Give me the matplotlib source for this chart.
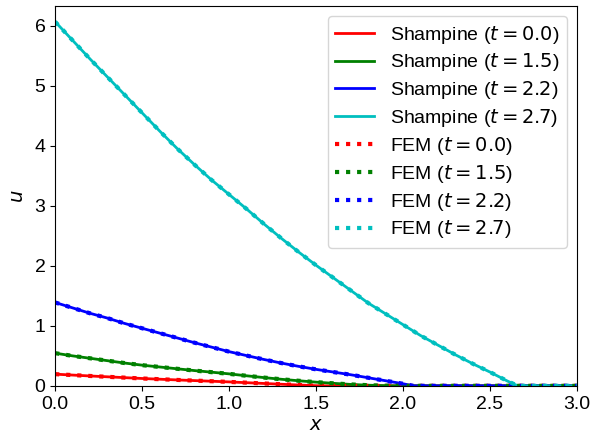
import matplotlib
matplotlib.use('Agg')
import matplotlib.pyplot as plt

plt.rcParams['font.family'] = ['Liberation Sans', 'DejaVu Sans']
plt.rcParams['font.size'] = 14

times = [0.0, 1.5, 2.2, 2.7]
colors = ['r', 'g', 'b', 'c']

x_red = [0.0, 0.1, 0.2, 0.3, 0.4, 0.5, 0.6, 0.7, 0.8, 0.9, 1.0, 1.1, 1.2, 1.3, 1.4, 1.5, 1.55, 3.0]
u_red = [0.195, 0.18, 0.165, 0.151, 0.137, 0.123, 0.111, 0.099, 0.088, 0.077, 0.066, 0.053, 0.04, 0.027, 0.014, 0.003, 0.0, 0.0]

x_green = [0.0, 0.1, 0.2, 0.3, 0.4, 0.5, 0.6, 0.7, 0.8, 0.9, 1.0, 1.1, 1.2, 1.3, 1.4, 1.5, 1.6, 1.7, 1.8, 1.9, 1.95, 3.0]
u_green = [0.545, 0.50, 0.46, 0.42, 0.38, 0.345, 0.315, 0.285, 0.255, 0.228, 0.20, 0.168, 0.138, 0.11, 0.085, 0.062, 0.042, 0.024, 0.011, 0.003, 0.0, 0.0]

x_blue = [0.0, 0.1, 0.2, 0.3, 0.4, 0.5, 0.6, 0.7, 0.8, 0.9, 1.0, 1.1, 1.2, 1.3, 1.4, 1.5, 1.6, 1.7, 1.8, 1.9, 2.0, 2.06, 3.0]
u_blue = [1.39, 1.30, 1.21, 1.13, 1.04, 0.96, 0.88, 0.80, 0.72, 0.645, 0.57, 0.505, 0.44, 0.38, 0.325, 0.275, 0.23, 0.185, 0.135, 0.085, 0.035, 0.0, 0.0]

x_cyan = [0.0, 0.1, 0.2, 0.3, 0.4, 0.5, 0.6, 0.7, 0.8, 0.9, 1.0, 1.1, 1.2, 1.3, 1.4, 1.5, 1.6, 1.7, 1.8, 1.9, 2.0, 2.1, 2.2, 2.3, 2.4, 2.5, 2.6, 2.66, 3.0]
u_cyan = [6.07, 5.76, 5.45, 5.15, 4.85, 4.55, 4.25, 3.96, 3.69, 3.43, 3.19, 2.95, 2.70, 2.46, 2.23, 2.01, 1.80, 1.59, 1.38, 1.20, 1.02, 0.84, 0.68, 0.52, 0.37, 0.23, 0.08, 0.0, 0.0]

xs = [x_red, x_green, x_blue, x_cyan]
us = [u_red, u_green, u_blue, u_cyan]

fig = plt.figure(figsize=(5.93, 4.36), dpi=100)
ax = fig.add_axes([0.093, 0.115, 0.88, 0.871])

for t, c, x, u in zip(times, colors, xs, us):
    ax.plot(x, u, c + '-', lw=2, label='Shampine ($t = %.1f$)' % t)
for t, c, x, u in zip(times, colors, xs, us):
    ax.plot(x, u, c + ':', lw=3, label='FEM ($t = %.1f$)' % t)

ax.set_xlim(0, 3)
ax.set_ylim(0, 6.33)
ax.set_xlabel('$x$', labelpad=3)
ax.set_ylabel('$u$', labelpad=5)
ax.legend(loc='upper right', labelspacing=0.3, handlelength=2.0)

fig.savefig('out.png')
